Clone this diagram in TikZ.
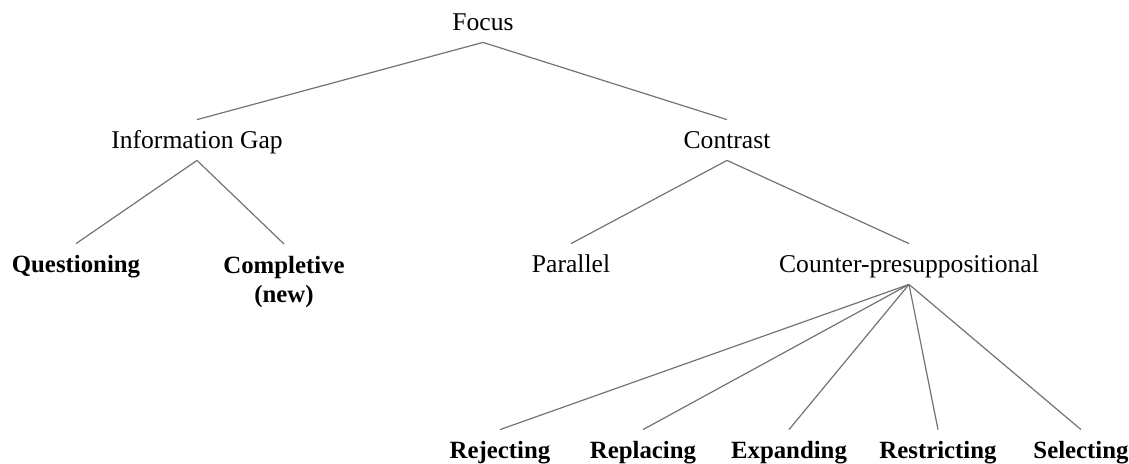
\documentclass[tikz,border=0pt]{standalone}
\usepackage{fontspec}
\setmainfont{Liberation Serif}

\begin{document}
\begin{tikzpicture}[x=0.5pt, y=-0.5pt,
    lbl/.style={font=\fontsize{12.8}{14.5}\selectfont, inner sep=0pt,
                minimum height=20pt, text height=10pt, text depth=2pt},
    leaf/.style={lbl, font=\fontsize{12.4}{14.5}\selectfont\bfseries},
    branch/.style={draw=black!55, line width=0.6pt}]
            \useasboundingbox (0,0) rectangle (1129,463);

            % Racine
            \node[lbl] (focus) at (483,22) {Focus};

            % Premier niveau
            \node[lbl] (info) at (197,140) {Information Gap};
            \node[lbl] (contrast) at (727,140) {Contrast};
            \draw[branch] (focus.south) -- (info.north);
            \draw[branch] (focus.south) -- (contrast.north);

            % Sous Information Gap
            \node[leaf] (quest) at (76,264) {Questioning};
            \node[font=\fontsize{12.4}{14.5}\selectfont\bfseries, align=center,
                  anchor=north, inner xsep=0pt, inner ysep=6pt] (compl) at (284,244) {Completive\\(new)};
            \draw[branch] (info.south) -- (quest.north);
            \draw[branch] (info.south) -- (compl.north);

            % Sous Contrast
            \node[lbl] (parallel) at (571,264) {Parallel};
            \node[lbl] (counter) at (909,264) {Counter-presuppositional};
            \draw[branch] (contrast.south) -- (parallel.north);
            \draw[branch] (contrast.south) -- (counter.north);

            % Feuilles sous Counter-presuppositional
            \foreach \nm/\x/\txt in {rej/500/Rejecting, repl/643/Replacing,
                    expd/789/Expanding, restr/938/Restricting, sel/1081/Selecting}
            {
                \node[leaf] (\nm) at (\x,450) {\txt};
                \draw[branch] (counter.south) -- (\nm.north);
            }
        \end{tikzpicture}
\end{document}
